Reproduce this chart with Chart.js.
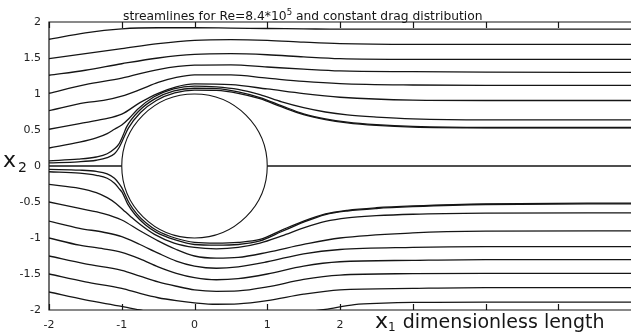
<!DOCTYPE html>
<html>
<head>
<meta charset="utf-8">
<title>Streamlines around a cylinder</title>
<script src="https://cdn.jsdelivr.net/npm/chart.js@4.4.1/dist/chart.umd.min.js"></script>
<style>
  html, body { margin: 0; padding: 0; background: #fff; overflow: hidden; }
  .chart-container { position: relative; width: 640px; height: 335px; }
</style>
</head>
<body>
<div class="chart-container"><canvas id="streamChart" width="640" height="335"></canvas></div>
<script>
// axis ranges and ticks
const xRange = [-2, 6];
const yRange = [-2, 2];
const xTickValues = [-2, -1, 0, 1, 2, 3, 4, 5];
const xLabelledTicks = [-2, -1, 0, 1, 2]; // the rest sit under the axis title
const yStep = 0.5;

// cylinder of unit radius at the origin
const cylinderCenter = [0, 0];
const cylinderRadius = 1;

// stagnation streamline (y = 0) in front of and behind the cylinder
const stagnationFront = [[-2, 0], [-1, 0]];
const stagnationWake = [[1, 0], [6, 0]];

// streamlines above the axis, [x1, x2] pairs
const upper1 = [[-2, 1.76], [-1.5, 1.85], [-1, 1.905], [-0.5, 1.92], [0, 1.92], [0.5, 1.915], [1, 1.91], [1.5, 1.905], [2, 1.90], [3, 1.9], [4, 1.9], [6, 1.9]];
const upper2 = [[-2, 1.49], [-1.5, 1.56], [-1, 1.63], [-0.5, 1.70], [0, 1.745], [0.5, 1.755], [1, 1.745], [1.5, 1.72], [2, 1.70], [3, 1.69], [4, 1.69], [6, 1.69]];
const upper3 = [[-2, 1.26], [-1.5, 1.33], [-1, 1.42], [-0.5, 1.50], [0, 1.55], [0.5, 1.56], [1, 1.545], [1.5, 1.515], [2, 1.49], [3, 1.48], [4, 1.48], [6, 1.48]];
const upper4 = [[-2, 1.01], [-1.5, 1.13], [-1, 1.22], [-0.5, 1.34], [0, 1.40], [0.5, 1.405], [1, 1.375], [1.5, 1.345], [2, 1.32], [3, 1.31], [4, 1.305], [6, 1.30]];
const upper5 = [[-2, 0.77], [-1.5, 0.88], [-1.25, 0.91], [-1, 0.97], [-0.75, 1.06], [-0.5, 1.16], [-0.25, 1.23], [0, 1.265], [0.5, 1.265], [1, 1.22], [1.5, 1.175], [2, 1.145], [3, 1.125], [4, 1.12], [6, 1.12]];
const upper6 = [[-2, 0.51], [-1.58, 0.59], [-1.25, 0.65], [-1, 0.72], [-0.75, 0.88], [-0.5, 1.01], [-0.25, 1.10], [0, 1.14], [0.5, 1.13], [1, 1.07], [1.5, 1.005], [2, 0.955], [3, 0.915], [4, 0.91], [6, 0.91]];
const upper7 = [[-2, 0.25], [-1.58, 0.33], [-1.35, 0.39], [-1.2, 0.45], [-1.1, 0.51], [-1, 0.57], [-0.9, 0.66], [-0.785, 0.785], [-0.555, 0.961], [-0.287, 1.072], [0, 1.11], [0.3, 1.10], [0.6, 1.065], [0.9, 0.99], [1.2, 0.89], [1.5, 0.81], [1.8, 0.75], [2.1, 0.71], [2.5, 0.68], [3, 0.655], [4, 0.64], [6, 0.64]];
const upper8 = [[-2, 0.072], [-1.6, 0.095], [-1.35, 0.125], [-1.2, 0.17], [-1.1, 0.24], [-1.043, 0.30], [-0.98, 0.43], [-0.935, 0.54], [-0.764, 0.764], [-0.54, 0.935], [-0.28, 1.043], [0, 1.08], [0.3, 1.075], [0.6, 1.03], [0.9, 0.95], [1.2, 0.835], [1.5, 0.725], [1.8, 0.655], [2.1, 0.61], [2.5, 0.575], [3, 0.55], [4, 0.535], [6, 0.535]];
const upper9 = [[-2, 0.044], [-1.6, 0.058], [-1.35, 0.08], [-1.2, 0.115], [-1.1, 0.17], [-1.04, 0.25], [-1.0, 0.33], [-0.96, 0.42], [-0.909, 0.525], [-0.742, 0.742], [-0.525, 0.909], [-0.272, 1.014], [0, 1.055], [0.3, 1.05], [0.6, 1.01], [0.9, 0.935], [1.2, 0.82], [1.5, 0.715], [1.8, 0.645], [2.1, 0.6], [2.5, 0.565], [3, 0.54], [4, 0.53], [6, 0.53]];

// streamlines below the axis
const lower9 = [[-2, -0.047], [-1.58, -0.057], [-1.35, -0.075], [-1.2, -0.11], [-1.1, -0.17], [-1.04, -0.24], [-1.0, -0.30], [-0.973, -0.354], [-0.896, -0.518], [-0.793, -0.665], [-0.665, -0.793], [-0.518, -0.896], [-0.268, -1.0], [0, -1.06], [0.3, -1.07], [0.6, -1.06], [0.9, -1.02], [1.2, -0.89], [1.5, -0.765], [1.8, -0.665], [2.1, -0.615], [2.5, -0.58], [3, -0.555], [4, -0.525], [6, -0.515]];
const lower8 = [[-2, -0.08], [-1.58, -0.10], [-1.35, -0.13], [-1.2, -0.17], [-1.1, -0.24], [-1.04, -0.31], [-0.996, -0.363], [-0.918, -0.53], [-0.812, -0.681], [-0.681, -0.812], [-0.53, -0.918], [-0.274, -1.024], [0, -1.09], [0.3, -1.10], [0.6, -1.09], [0.9, -1.04], [1.2, -0.91], [1.5, -0.78], [1.8, -0.675], [2.1, -0.625], [2.5, -0.59], [3, -0.565], [4, -0.535], [6, -0.525]];
const lower7 = [[-2, -0.256], [-1.58, -0.31], [-1.35, -0.37], [-1.2, -0.44], [-1.08, -0.52], [-0.98, -0.61], [-0.88, -0.70], [-0.75, -0.81], [-0.55, -0.95], [-0.28, -1.07], [0, -1.13], [0.3, -1.15], [0.6, -1.13], [0.9, -1.07], [1.2, -0.97], [1.5, -0.86], [1.8, -0.77], [2.1, -0.72], [2.5, -0.69], [3, -0.67], [4, -0.655], [6, -0.65]];
const lower6 = [[-2, -0.50], [-1.58, -0.59], [-1.25, -0.66], [-1, -0.75], [-0.75, -0.90], [-0.5, -1.04], [-0.25, -1.16], [0, -1.25], [0.3, -1.28], [0.6, -1.27], [1, -1.20], [1.5, -1.09], [2, -1.00], [3, -0.93], [4, -0.905], [6, -0.90]];
const lower5 = [[-2, -0.765], [-1.58, -0.865], [-1.25, -0.92], [-1, -0.98], [-0.75, -1.09], [-0.5, -1.21], [-0.25, -1.32], [0, -1.39], [0.3, -1.42], [0.6, -1.40], [1, -1.33], [1.5, -1.22], [2, -1.16], [3, -1.13], [4, -1.12], [6, -1.12]];
const lower4 = [[-2, -1.0], [-1.58, -1.10], [-1.25, -1.15], [-1, -1.20], [-0.75, -1.29], [-0.5, -1.40], [-0.25, -1.49], [0, -1.55], [0.3, -1.58], [0.6, -1.565], [1, -1.50], [1.5, -1.39], [2, -1.33], [3, -1.31], [4, -1.30], [6, -1.30]];
const lower3 = [[-2, -1.25], [-1.5, -1.36], [-1, -1.45], [-0.75, -1.53], [-0.5, -1.61], [-0.25, -1.67], [0, -1.72], [0.3, -1.74], [0.6, -1.735], [1, -1.68], [1.5, -1.575], [2, -1.515], [3, -1.495], [4, -1.49], [6, -1.49]];
const lower2 = [[-2, -1.50], [-1.5, -1.61], [-1, -1.70], [-0.75, -1.77], [-0.5, -1.83], [-0.25, -1.87], [0, -1.90], [0.3, -1.92], [0.6, -1.915], [1, -1.87], [1.5, -1.78], [2, -1.72], [3, -1.70], [4, -1.69], [6, -1.69]];
const lower1 = [[-2, -1.75], [-1.5, -1.86], [-1, -1.95], [-0.75, -2.0], [-0.5, -2.05], [0, -2.10], [0.5, -2.12], [1, -2.09], [1.5, -2.03], [1.8, -1.99], [2.2, -1.925], [2.6, -1.905], [3, -1.895], [4, -1.89], [6, -1.89]];

const streamlines = [
  stagnationFront, stagnationWake,
  upper1, upper2, upper3, upper4, upper5, upper6, upper7, upper8, upper9,
  lower1, lower2, lower3, lower4, lower5, lower6, lower7, lower8, lower9
];

const FONT = '"DejaVu Sans", sans-serif';
const INK = '#151515';

// frame with inward ticks, the cylinder outline and the text labels
const decorations = {
  id: 'decorations',
  afterDatasetsDraw(chart) {
    const { ctx, chartArea: a, scales: { x, y } } = chart;
    ctx.save();
    ctx.strokeStyle = INK;
    ctx.lineWidth = 1.2;

    ctx.beginPath();
    ctx.moveTo(a.right, a.top);
    ctx.lineTo(a.left, a.top);
    ctx.lineTo(a.left, a.bottom);
    ctx.lineTo(a.right, a.bottom);
    ctx.stroke();

    ctx.beginPath();
    xTickValues.forEach(v => {
      const px = Math.round(x.getPixelForValue(v)) + 0.5;
      ctx.moveTo(px, a.top);
      ctx.lineTo(px, a.top + 6);
      ctx.moveTo(px, a.bottom);
      ctx.lineTo(px, a.bottom - 6);
    });
    ctx.stroke();

    const cx = x.getPixelForValue(cylinderCenter[0]);
    const cy = y.getPixelForValue(cylinderCenter[1]);
    const rx = x.getPixelForValue(cylinderCenter[0] + cylinderRadius) - cx;
    const ry = cy - y.getPixelForValue(cylinderCenter[1] + cylinderRadius);
    ctx.lineWidth = 1.1;
    ctx.beginPath();
    ctx.ellipse(cx, cy, rx, ry, 0, 0, Math.PI * 2);
    ctx.stroke();

    ctx.fillStyle = INK;
    ctx.textBaseline = 'alphabetic';
    ctx.textAlign = 'left';

    // chart title with the exponent raised
    let tx = 123;
    const parts = [['streamlines for Re=8.4*10', 12.3, 0], ['5', 8.5, -5], [' and constant drag distribution', 12.3, 0]];
    parts.forEach(([s, size, dy]) => {
      ctx.font = size + 'px ' + FONT;
      ctx.fillText(s, tx, 20 + dy);
      tx += ctx.measureText(s).width;
    });

    // axis titles with subscripts
    ctx.font = '22px ' + FONT;
    ctx.fillText('x', 3, 167);
    ctx.font = '14px ' + FONT;
    ctx.fillText('2', 18, 172);

    ctx.font = '22px ' + FONT;
    ctx.fillText('x', 375, 328);
    let w = 375 + ctx.measureText('x').width;
    ctx.font = '12px ' + FONT;
    ctx.fillText('1', w, 331);
    w += ctx.measureText('1').width + 7;
    ctx.font = '19px ' + FONT;
    ctx.fillText('dimensionless length', w, 328);
    ctx.restore();
  }
};

new Chart(document.getElementById('streamChart'), {
  type: 'scatter',
  data: {
    datasets: streamlines.map(line => ({
      data: line.map(([px, py]) => ({ x: px, y: py })),
      showLine: true,
      borderColor: INK,
      borderWidth: 1.3,
      pointRadius: 0,
      cubicInterpolationMode: 'monotone',
      clip: 0
    }))
  },
  options: {
    responsive: false,
    animation: false,
    layout: { padding: { top: 22, left: 0, right: 0, bottom: 0 } },
    plugins: { legend: { display: false }, tooltip: { enabled: false } },
    scales: {
      x: {
        type: 'linear',
        min: xRange[0],
        max: xRange[1],
        afterFit: s => { s.height = 25; },
        grid: { display: false, drawTicks: false },
        border: { display: false },
        ticks: {
          stepSize: 1,
          autoSkip: false,
          maxRotation: 0,
          padding: 9,
          color: '#222',
          font: { family: FONT, size: 11 },
          callback: v => xLabelledTicks.includes(v) ? String(v) : ''
        }
      },
      y: {
        min: yRange[0],
        max: yRange[1],
        afterFit: s => { s.width = 49; },
        grid: { display: false, drawTicks: false },
        border: { display: false },
        ticks: {
          stepSize: yStep,
          padding: 8,
          color: '#222',
          font: { family: FONT, size: 11 },
          callback: v => String(v)
        }
      }
    }
  },
  plugins: [decorations]
});
</script>
</body>
</html>
